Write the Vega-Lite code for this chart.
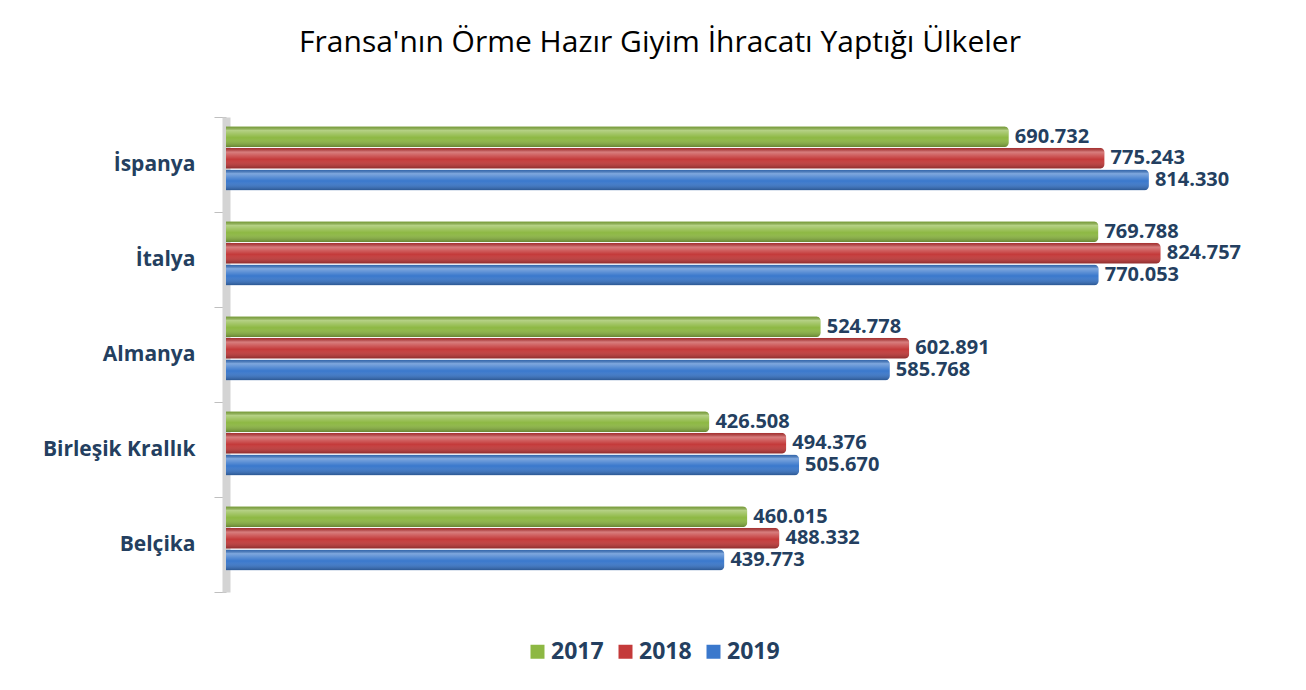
{
  "$schema": "https://vega.github.io/schema/vega-lite/v6.json",
  "width": 1020,
  "height": 475,
  "autosize": "none",
  "padding": {"left": 226, "top": 117, "right": 60, "bottom": 98},
  "background": "white",
  "title": {
    "text": "Fransa'nın Örme Hazır Giyim İhracatı Yaptığı Ülkeler",
    "font": "Open Sans",
    "fontSize": 30,
    "fontWeight": "normal",
    "color": "#000000",
    "anchor": "middle",
    "frame": "group",
    "dx": -76,
    "offset": 48
  },
  "data": {
    "values": [
      {"country": "İspanya", "year": "2017", "value": 690.732},
      {"country": "İspanya", "year": "2018", "value": 775.243},
      {"country": "İspanya", "year": "2019", "value": 814.330},
      {"country": "İtalya", "year": "2017", "value": 769.788},
      {"country": "İtalya", "year": "2018", "value": 824.757},
      {"country": "İtalya", "year": "2019", "value": 770.053},
      {"country": "Almanya", "year": "2017", "value": 524.778},
      {"country": "Almanya", "year": "2018", "value": 602.891},
      {"country": "Almanya", "year": "2019", "value": 585.768},
      {"country": "Birleşik Krallık", "year": "2017", "value": 426.508},
      {"country": "Birleşik Krallık", "year": "2018", "value": 494.376},
      {"country": "Birleşik Krallık", "year": "2019", "value": 505.670},
      {"country": "Belçika", "year": "2017", "value": 460.015},
      {"country": "Belçika", "year": "2018", "value": 488.332},
      {"country": "Belçika", "year": "2019", "value": 439.773}
    ]
  },
  "encoding": {
    "y": {
      "field": "country",
      "type": "nominal",
      "sort": ["İspanya", "İtalya", "Almanya", "Birleşik Krallık", "Belçika"],
      "scale": {"paddingInner": 0, "paddingOuter": 0},
      "axis": {
        "title": null,
        "tickBand": "extent",
        "labelFont": "Open Sans",
        "labelFontSize": 21,
        "labelFontWeight": "bold",
        "labelColor": "#243F60",
        "labelPadding": 19,
        "tickSize": 12,
        "tickColor": "#BFBFBF",
        "domainColor": "#D4D4D4",
        "domainWidth": 8
      }
    },
    "yOffset": {
      "field": "year",
      "type": "nominal",
      "sort": ["2017", "2018", "2019"],
      "scale": {"paddingInner": 0.03, "paddingOuter": 0.715, "align": 0.3}
    },
    "x": {
      "field": "value",
      "type": "quantitative",
      "scale": {"domain": [0, 900]},
      "axis": null
    }
  },
  "layer": [
    {
      "mark": {"type": "bar", "cornerRadiusEnd": 5},
      "encoding": {
        "color": {
          "field": "year",
          "type": "nominal",
          "scale": {"domain": ["2017", "2018", "2019"], "range": ["#8DB843", "#C43A3A", "#3A78CC"]},
          "legend": {
            "title": null,
            "orient": "none",
            "direction": "horizontal",
            "legendX": 300,
            "legendY": 523,
            "symbolType": "square",
            "symbolSize": 196,
            "symbolStrokeWidth": 0,
            "labelFont": "Open Sans",
            "labelFontSize": 23,
            "labelFontWeight": "bold",
            "labelColor": "#243F60",
            "labelOffset": 2,
            "columnPadding": 10
          }
        }
      }
    },
    {
      "mark": {
        "type": "bar",
        "cornerRadiusEnd": 5,
        "fill": {
          "gradient": "linear",
          "x1": 0, "y1": 0, "x2": 0, "y2": 1,
          "stops": [
            {"offset": 0, "color": "rgba(0,0,0,0.15)"},
            {"offset": 0.2, "color": "rgba(255,255,255,0.35)"},
            {"offset": 0.55, "color": "rgba(255,255,255,0)"},
            {"offset": 1, "color": "rgba(0,0,0,0.3)"}
          ]
        }
      }
    },
    {
      "mark": {
        "type": "text",
        "align": "left",
        "baseline": "middle",
        "dx": 6,
        "font": "Open Sans",
        "fontSize": 20,
        "fontWeight": "bold",
        "color": "#243F60"
      },
      "encoding": {
        "text": {"field": "value", "type": "quantitative", "format": ".3f"}
      }
    }
  ],
  "config": {"view": {"stroke": null}}
}
